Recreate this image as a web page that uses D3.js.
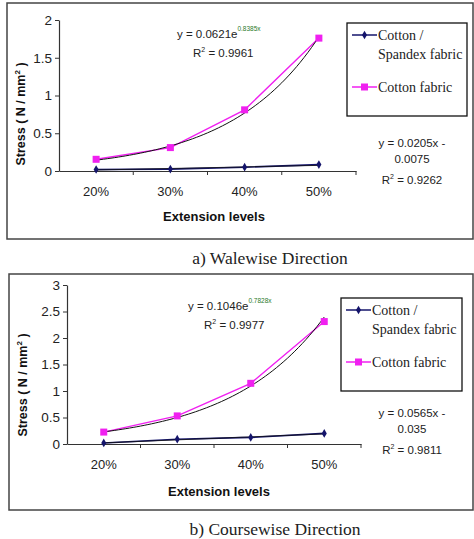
<!DOCTYPE html>
<html>
<head>
<meta charset="utf-8">
<script src="https://cdn.jsdelivr.net/npm/d3@7"></script>
<style>
  body { margin: 0; background: #fff; }
  text { font-family: Arial, "Liberation Sans", sans-serif; }
  .serif { font-family: "Times New Roman", "Liberation Serif", serif; }
</style>
</head>
<body>
<div id="chart"></div>
<script>
/* Data */
const categories = ['20%', '30%', '40%', '50%'];

const walewiseSpandex = [0.02, 0.025, 0.05, 0.085];
const walewiseCotton = [0.155, 0.31, 0.81, 1.76];
const walewiseTicks = [0, 0.5, 1, 1.5, 2];

const coursewiseSpandex = [0.02, 0.09, 0.125, 0.2];
const coursewiseCotton = [0.225, 0.53, 1.145, 2.31];
const coursewiseTicks = [0, 0.5, 1, 1.5, 2, 2.5, 3];

// Excel trendline coefficients shown on the chart
const walewiseExp = [0.0621, 0.8385];
const walewiseLin = [0.0205, -0.0075];
const coursewiseExp = [0.1046, 0.7828];
const coursewiseLin = [0.0565, -0.035];

const seriesNames = ['Cotton /', 'Spandex fabric', 'Cotton fabric'];

const navy = '#14146b',
  magenta = '#f020f0';

const svg = d3
  .select('#chart')
  .append('svg')
  .attr('width', 474)
  .attr('height', 539);

function drawPanel(p) {
  const g = svg.append('g');

  // outer frame
  g.append('rect')
    .attr('x', p.frame[0])
    .attr('y', p.frame[1])
    .attr('width', p.frame[2])
    .attr('height', p.frame[3])
    .attr('fill', '#fff')
    .attr('stroke', '#444')
    .attr('stroke-width', 1.5);

  const x = d3.scaleBand().domain(categories).range([p.left, p.right]);
  const xLin = d3
    .scaleLinear()
    .domain([0.5, categories.length + 0.5])
    .range([p.left, p.right]);
  const y = d3
    .scaleLinear()
    .domain([0, d3.max(p.ticks)])
    .range([p.bottom, p.top]);

  // y axis
  const yAxis = g
    .append('g')
    .attr('transform', `translate(${p.left},0)`)
    .call(d3.axisLeft(y).tickValues(p.ticks).tickSize(4).tickSizeOuter(0).tickPadding(3).tickFormat(d3.format('')));
  yAxis.select('.domain').attr('stroke', '#333').attr('stroke-width', 1.2);
  yAxis.selectAll('line').attr('stroke', '#333');
  yAxis.selectAll('text').attr('font-size', 13.5).attr('fill', '#222');

  // x axis
  const xAxis = g
    .append('g')
    .attr('transform', `translate(0,${p.bottom})`)
    .call(d3.axisBottom(x).tickSize(0).tickPadding(16));
  xAxis.select('.domain').attr('stroke', '#333').attr('stroke-width', 1.2);
  xAxis.selectAll('text').attr('font-size', 13).attr('fill', '#222');
  g.append('g')
    .selectAll('line')
    .data(d3.range(1, categories.length + 1))
    .join('line')
    .attr('x1', (d) => xLin(d + 0.5))
    .attr('x2', (d) => xLin(d + 0.5))
    .attr('y1', p.bottom)
    .attr('y2', p.bottom + 4)
    .attr('stroke', '#333');

  // axis titles
  const yt = g
    .append('text')
    .attr('transform', `translate(${p.yTitle[0]},${p.yTitle[1]}) rotate(-90)`)
    .attr('text-anchor', 'middle')
    .attr('font-size', 12.5)
    .attr('font-weight', 'bold')
    .attr('fill', '#111');
  yt.append('tspan').text('Stress ( N / mm');
  yt.append('tspan').attr('font-size', 8).attr('dy', -5).text('2');
  yt.append('tspan').attr('dy', 5).text(' )');

  g.append('text')
    .attr('x', p.xTitle[0])
    .attr('y', p.xTitle[1])
    .attr('text-anchor', 'middle')
    .attr('font-size', 13)
    .attr('font-weight', 'bold')
    .attr('fill', '#111')
    .text('Extension levels');

  const line = d3
    .line()
    .x((d, i) => x(categories[i]) + x.bandwidth() / 2)
    .y((d) => y(d));

  // series lines
  g.append('path')
    .attr('d', line(p.cotton))
    .attr('fill', 'none')
    .attr('stroke', magenta)
    .attr('stroke-width', 1.4);
  g.append('path')
    .attr('d', line(p.spandex))
    .attr('fill', 'none')
    .attr('stroke', navy)
    .attr('stroke-width', 1.6);

  // trendlines
  const steps = d3.range(1, categories.length + 0.001, 0.05);
  const trend = d3
    .line()
    .x((d) => xLin(d[0]))
    .y((d) => y(d[1]));
  g.append('path')
    .attr('d', trend(steps.map((t) => [t, p.exp[0] * Math.exp(p.exp[1] * t)])))
    .attr('fill', 'none')
    .attr('stroke', '#111')
    .attr('stroke-width', 1);
  g.append('path')
    .attr('d', trend([1, categories.length].map((t) => [t, p.lin[0] * t + p.lin[1]])))
    .attr('fill', 'none')
    .attr('stroke', '#111')
    .attr('stroke-width', 0.8);

  // markers
  g.append('g')
    .selectAll('rect')
    .data(p.cotton)
    .join('rect')
    .attr('x', (d, i) => x(categories[i]) + x.bandwidth() / 2 - 3.5)
    .attr('y', (d) => y(d) - 3.5)
    .attr('width', 7)
    .attr('height', 7)
    .attr('fill', magenta);
  g.append('g')
    .selectAll('path')
    .data(p.spandex)
    .join('path')
    .attr('d', d3.symbol(d3.symbolDiamond, 22))
    .attr('transform', (d, i) => `translate(${x(categories[i]) + x.bandwidth() / 2},${y(d)})`)
    .attr('fill', navy);

  // exponential equation
  const eq = g
    .append('text')
    .attr('x', p.eqExp[0])
    .attr('y', p.eqExp[1])
    .attr('font-size', 11.5)
    .attr('fill', '#222');
  eq.append('tspan').text(`y = ${p.exp[0]}e`);
  eq.append('tspan')
    .attr('font-size', 6.5)
    .attr('dy', -7)
    .attr('fill', '#2a7a2a')
    .text(`${p.exp[1]}x`);
  const r1 = g
    .append('text')
    .attr('x', p.eqExp[0] + 16)
    .attr('y', p.eqExp[1] + 19)
    .attr('font-size', 11.5)
    .attr('fill', '#222');
  r1.append('tspan').text('R');
  r1.append('tspan').attr('font-size', 7).attr('dy', -5).text('2');
  r1.append('tspan').attr('dy', 5).text(` = ${p.r2Exp}`);

  // linear equation
  const lc = p.eqLin[0];
  g.append('text')
    .attr('x', lc)
    .attr('y', p.eqLin[1])
    .attr('text-anchor', 'middle')
    .attr('font-size', 11.5)
    .attr('fill', '#222')
    .text(`y = ${p.lin[0]}x -`);
  g.append('text')
    .attr('x', lc)
    .attr('y', p.eqLin[1] + 16)
    .attr('text-anchor', 'middle')
    .attr('font-size', 11.5)
    .attr('fill', '#222')
    .text(`${-p.lin[1]}`);
  const r2 = g
    .append('text')
    .attr('x', lc)
    .attr('y', p.eqLin[1] + 37)
    .attr('text-anchor', 'middle')
    .attr('font-size', 11.5)
    .attr('fill', '#222');
  r2.append('tspan').text('R');
  r2.append('tspan').attr('font-size', 7).attr('dy', -5).text('2');
  r2.append('tspan').attr('dy', 5).text(` = ${p.r2Lin}`);

  // legend
  const [lx, ly, lw, lh] = p.legend;
  const lg = g.append('g').attr('transform', `translate(${lx},${ly})`);
  lg.append('rect')
    .attr('width', lw)
    .attr('height', lh)
    .attr('fill', '#fff')
    .attr('stroke', '#111')
    .attr('stroke-width', 1.3);
  const rows = [
    { c: navy, sym: 'diamond', y: 12, t: [seriesNames[0], seriesNames[1]] },
    { c: magenta, sym: 'square', y: 64, t: [seriesNames[2]] },
  ];
  rows.forEach((r) => {
    lg.append('line')
      .attr('x1', 5)
      .attr('x2', 30)
      .attr('y1', r.y)
      .attr('y2', r.y)
      .attr('stroke', r.c)
      .attr('stroke-width', 1.5);
    if (r.sym === 'square') {
      lg.append('rect')
        .attr('x', 14)
        .attr('y', r.y - 3.5)
        .attr('width', 7)
        .attr('height', 7)
        .attr('fill', r.c);
    } else {
      lg.append('path')
        .attr('d', d3.symbol(d3.symbolDiamond, 22))
        .attr('transform', `translate(17.5,${r.y})`)
        .attr('fill', r.c);
    }
    r.t.forEach((t, i) => {
      lg.append('text')
        .attr('class', 'serif')
        .attr('x', 31)
        .attr('y', r.y + 5 + i * 19)
        .attr('font-size', 14)
        .attr('fill', '#222')
        .text(t);
    });
  });

  // caption
  svg.append('text')
    .attr('class', 'serif')
    .attr('x', p.caption[0])
    .attr('y', p.caption[1])
    .attr('text-anchor', 'middle')
    .attr('font-size', 17.5)
    .attr('fill', '#222')
    .text(p.captionText);
}

drawPanel({
  frame: [7, 3, 466, 236],
  left: 59,
  right: 356,
  top: 20,
  bottom: 171,
  ticks: walewiseTicks,
  cotton: walewiseCotton,
  spandex: walewiseSpandex,
  exp: walewiseExp,
  lin: walewiseLin,
  r2Exp: '0.9961',
  r2Lin: '0.9262',
  eqExp: [177, 38],
  eqLin: [412, 147],
  legend: [347, 23, 120, 93],
  yTitle: [25, 114],
  xTitle: [214, 221],
  caption: [270, 264],
  captionText: 'a) Walewise Direction',
});

drawPanel({
  frame: [9, 274, 464, 236],
  left: 67,
  right: 361,
  top: 285,
  bottom: 444,
  ticks: coursewiseTicks,
  cotton: coursewiseCotton,
  spandex: coursewiseSpandex,
  exp: coursewiseExp,
  lin: coursewiseLin,
  r2Exp: '0.9977',
  r2Lin: '0.9811',
  eqExp: [188, 310],
  eqLin: [412, 417],
  legend: [341, 298, 121, 93],
  yTitle: [27, 385],
  xTitle: [219, 496],
  caption: [275, 535],
  captionText: 'b) Coursewise Direction',
});
</script>
</body>
</html>
